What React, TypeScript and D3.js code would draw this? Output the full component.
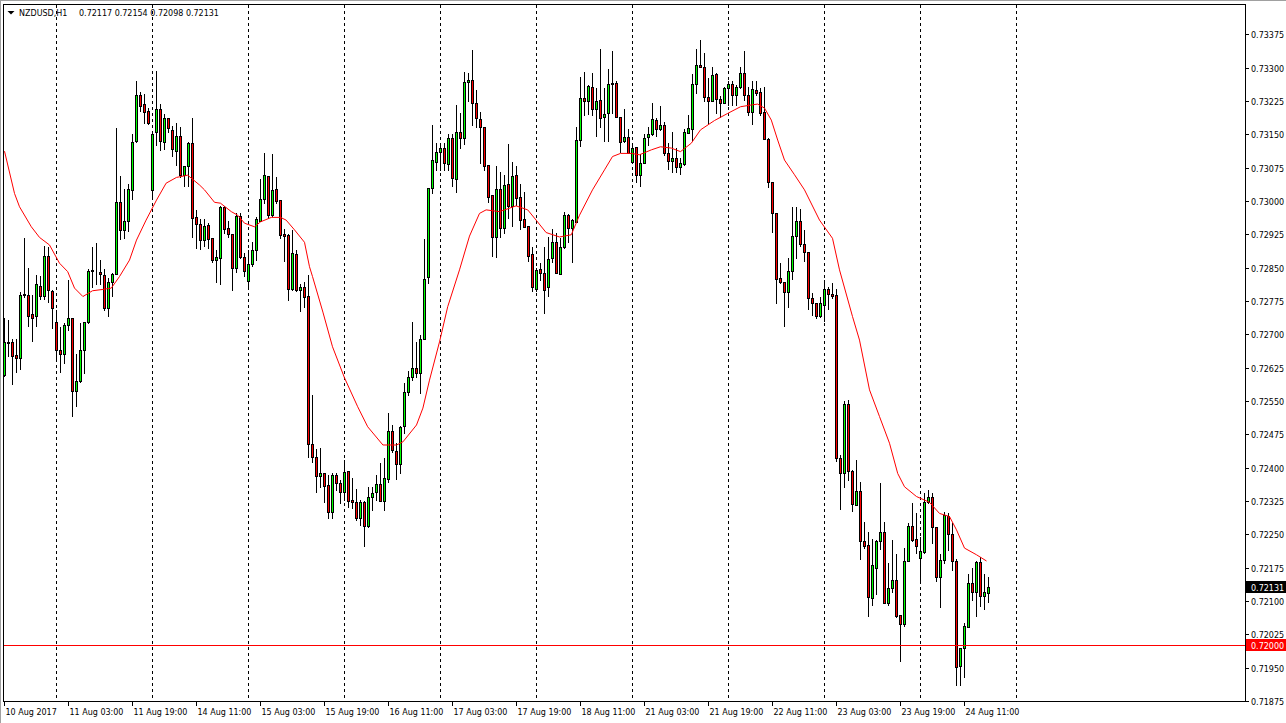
import React from 'react';
import * as d3 from 'd3';

// NZDUSD H1, 10 Aug 2017 11:00 .. 24 Aug 2017 17:00 (one entry per hourly bar)
const symbolName = 'NZDUSD,H1';

const opens = [
  0.72609, 0.72681, 0.72682, 0.72654, 0.72646, 0.72789, 0.72789, 0.72745, 0.72741, 0.72809, 0.72787, 0.72876, 0.72798,
  0.72727, 0.72664, 0.72656, 0.72722, 0.72736, 0.72573, 0.72595, 0.72664, 0.72727, 0.72843, 0.72845, 0.72841, 0.72834, 0.72760, 0.72817, 0.72836, 0.72997, 0.72935, 0.72956, 0.73025, 0.73134, 0.73239, 0.73218, 0.73203,
  0.73024, 0.73156, 0.73208, 0.73132, 0.73186, 0.73159, 0.73112, 0.73147, 0.73058, 0.73078, 0.73130, 0.72963, 0.72948, 0.72913, 0.72946, 0.72916, 0.72867, 0.72872, 0.72987, 0.72939, 0.72925, 0.72849, 0.72966, 0.72873,
  0.72819, 0.72858, 0.72889, 0.72956, 0.73004, 0.73056, 0.72968, 0.73026, 0.73002, 0.72926, 0.72923, 0.72803, 0.72880, 0.72799, 0.72806, 0.72786, 0.72454, 0.72423, 0.72382, 0.72388, 0.72361, 0.72300, 0.72384, 0.72365,
  0.72345, 0.72393, 0.72327, 0.72323, 0.72286, 0.72323, 0.72268, 0.72335, 0.72345, 0.72363, 0.72324, 0.72374, 0.72483, 0.72437, 0.72408, 0.72494, 0.72570, 0.72605, 0.72624, 0.72612, 0.72690, 0.72830, 0.73029, 0.73088,
  0.73110, 0.73119, 0.73083, 0.73141, 0.73049, 0.73155, 0.73141, 0.73267, 0.73272, 0.73220, 0.73184, 0.73166, 0.73081, 0.73013, 0.72918, 0.73026, 0.72939, 0.73038, 0.72989, 0.73058, 0.73008, 0.72960, 0.72944, 0.72880,
  0.72801, 0.72846, 0.72837, 0.72806, 0.72871, 0.72907, 0.72835, 0.72897, 0.72969, 0.72940, 0.72953, 0.73137, 0.73231, 0.73226, 0.73256, 0.73206, 0.73227, 0.73188, 0.73197, 0.73263, 0.73265, 0.73188, 0.73134, 0.73143,
  0.73087, 0.73121, 0.73058, 0.73085, 0.73144, 0.73151, 0.73182, 0.73162, 0.73171, 0.73109, 0.73091, 0.73096, 0.73076, 0.73083, 0.73152, 0.73162, 0.73263, 0.73306, 0.73301, 0.73233, 0.73225, 0.73286, 0.73229, 0.73221,
  0.73254, 0.73263, 0.73239, 0.73256, 0.73287, 0.73239, 0.73201, 0.73250, 0.73245, 0.73201, 0.73140, 0.73042, 0.72972, 0.72826, 0.72817, 0.72795, 0.72843, 0.72922, 0.72955, 0.72903, 0.72885, 0.72781, 0.72770, 0.72741,
  0.72767, 0.72801, 0.72790, 0.72789, 0.72421, 0.72387, 0.72543, 0.72393, 0.72316, 0.72348, 0.72235, 0.72226, 0.72106, 0.72175, 0.72235, 0.72256, 0.72095, 0.72129, 0.72147, 0.72068, 0.72048, 0.72191, 0.72269, 0.72239,
  0.72196, 0.72211, 0.72322, 0.72333, 0.72266, 0.72155, 0.72192, 0.72291, 0.72250, 0.72191, 0.71954, 0.71994, 0.72042, 0.72140, 0.72121, 0.72187, 0.72112, 0.72117,
];

const highs = [
  0.72737, 0.72732, 0.72690, 0.72690, 0.72795, 0.72917, 0.72849, 0.72789, 0.72834, 0.72832, 0.72898, 0.72897, 0.72799,
  0.72754, 0.72717, 0.72726, 0.72822, 0.72737, 0.72655, 0.72726, 0.72728, 0.72847, 0.72897, 0.72906, 0.72868, 0.72846, 0.72826, 0.72838, 0.73164, 0.73057, 0.73027, 0.73039, 0.73150, 0.73270, 0.73246, 0.73240, 0.73210,
  0.73151, 0.73293, 0.73218, 0.73196, 0.73187, 0.73168, 0.73176, 0.73166, 0.73079, 0.73132, 0.73186, 0.72980, 0.72960, 0.72960, 0.72950, 0.72917, 0.72890, 0.72989, 0.72989, 0.72955, 0.72925, 0.72974, 0.72974, 0.72883,
  0.72890, 0.72907, 0.72963, 0.73049, 0.73107, 0.73057, 0.73106, 0.73053, 0.73003, 0.72937, 0.72925, 0.72935, 0.72890, 0.72813, 0.72818, 0.72834, 0.72564, 0.72442, 0.72445, 0.72389, 0.72384, 0.72389, 0.72389, 0.72372,
  0.72417, 0.72393, 0.72376, 0.72351, 0.72327, 0.72324, 0.72357, 0.72357, 0.72384, 0.72410, 0.72421, 0.72524, 0.72496, 0.72455, 0.72493, 0.72591, 0.72618, 0.72727, 0.72683, 0.72699, 0.72914, 0.73030, 0.73171, 0.73130,
  0.73130, 0.73130, 0.73151, 0.73151, 0.73216, 0.73197, 0.73291, 0.73287, 0.73340, 0.73250, 0.73201, 0.73167, 0.73082, 0.73014, 0.73079, 0.73066, 0.73058, 0.73128, 0.73087, 0.73079, 0.73038, 0.73020, 0.72944, 0.72897,
  0.72849, 0.72860, 0.72897, 0.72920, 0.72937, 0.72927, 0.72916, 0.72975, 0.72971, 0.72960, 0.73166, 0.73280, 0.73291, 0.73260, 0.73287, 0.73254, 0.73342, 0.73254, 0.73297, 0.73338, 0.73271, 0.73189, 0.73206, 0.73162,
  0.73130, 0.73122, 0.73106, 0.73151, 0.73166, 0.73220, 0.73186, 0.73214, 0.73177, 0.73130, 0.73156, 0.73119, 0.73097, 0.73162, 0.73194, 0.73285, 0.73342, 0.73362, 0.73332, 0.73277, 0.73301, 0.73289, 0.73237, 0.73256,
  0.73271, 0.73269, 0.73261, 0.73301, 0.73338, 0.73257, 0.73269, 0.73269, 0.73254, 0.73256, 0.73141, 0.73043, 0.72973, 0.72860, 0.72818, 0.72872, 0.72986, 0.72986, 0.72981, 0.72935, 0.72886, 0.72792, 0.72771, 0.72785,
  0.72822, 0.72807, 0.72815, 0.72802, 0.72429, 0.72551, 0.72552, 0.72394, 0.72417, 0.72367, 0.72278, 0.72256, 0.72239, 0.72237, 0.72366, 0.72277, 0.72185, 0.72237, 0.72206, 0.72069, 0.72219, 0.72276, 0.72320, 0.72299,
  0.72245, 0.72342, 0.72350, 0.72344, 0.72267, 0.72205, 0.72301, 0.72299, 0.72275, 0.72194, 0.71994, 0.72050, 0.72161, 0.72174, 0.72191, 0.72200, 0.72161, 0.72154,
];

const lows = [
  0.72607, 0.72651, 0.72588, 0.72615, 0.72622, 0.72784, 0.72718, 0.72685, 0.72719, 0.72780, 0.72780, 0.72773, 0.72715,
  0.72642, 0.72616, 0.72636, 0.72710, 0.72516, 0.72539, 0.72593, 0.72613, 0.72726, 0.72807, 0.72813, 0.72814, 0.72754, 0.72742, 0.72787, 0.72836, 0.72915, 0.72917, 0.72933, 0.73005, 0.73133, 0.73203, 0.73176, 0.73173,
  0.73005, 0.73126, 0.73114, 0.73117, 0.73156, 0.73102, 0.73081, 0.73054, 0.73033, 0.73033, 0.72919, 0.72894, 0.72892, 0.72899, 0.72895, 0.72862, 0.72818, 0.72814, 0.72928, 0.72920, 0.72800, 0.72841, 0.72872, 0.72832,
  0.72805, 0.72853, 0.72867, 0.72955, 0.72995, 0.72962, 0.72966, 0.72995, 0.72917, 0.72866, 0.72777, 0.72800, 0.72798, 0.72753, 0.72762, 0.72424, 0.72413, 0.72346, 0.72357, 0.72323, 0.72286, 0.72286, 0.72350, 0.72320,
  0.72327, 0.72312, 0.72309, 0.72282, 0.72271, 0.72224, 0.72267, 0.72305, 0.72327, 0.72325, 0.72305, 0.72368, 0.72436, 0.72374, 0.72387, 0.72479, 0.72564, 0.72597, 0.72605, 0.72567, 0.72690, 0.72815, 0.73017, 0.73070,
  0.73070, 0.73070, 0.73070, 0.73034, 0.73020, 0.73119, 0.73128, 0.73225, 0.73171, 0.73167, 0.73085, 0.73070, 0.72998, 0.72877, 0.72875, 0.72918, 0.72927, 0.72961, 0.72944, 0.72991, 0.72937, 0.72941, 0.72866, 0.72798,
  0.72798, 0.72822, 0.72747, 0.72787, 0.72863, 0.72837, 0.72835, 0.72894, 0.72907, 0.72862, 0.72953, 0.73124, 0.73194, 0.73196, 0.73194, 0.73147, 0.73166, 0.73136, 0.73136, 0.73197, 0.73188, 0.73110, 0.73132, 0.73107,
  0.73087, 0.73042, 0.73034, 0.73085, 0.73126, 0.73149, 0.73146, 0.73160, 0.73104, 0.73072, 0.73066, 0.73065, 0.73061, 0.73081, 0.73152, 0.73137, 0.73242, 0.73301, 0.73226, 0.73173, 0.73224, 0.73199, 0.73190, 0.73220,
  0.73216, 0.73216, 0.73216, 0.73254, 0.73227, 0.73194, 0.73173, 0.73239, 0.73194, 0.73140, 0.73031, 0.72930, 0.72771, 0.72815, 0.72719, 0.72761, 0.72824, 0.72871, 0.72899, 0.72866, 0.72756, 0.72744, 0.72736, 0.72740,
  0.72730, 0.72756, 0.72782, 0.72415, 0.72306, 0.72357, 0.72372, 0.72303, 0.72316, 0.72194, 0.72219, 0.72067, 0.72091, 0.72116, 0.72217, 0.72095, 0.72091, 0.72120, 0.72065, 0.71966, 0.72044, 0.72191, 0.72235, 0.72209,
  0.72143, 0.72207, 0.72320, 0.72230, 0.72146, 0.72087, 0.72186, 0.72215, 0.72170, 0.71911, 0.71911, 0.71930, 0.72042, 0.72102, 0.72067, 0.72089, 0.72081, 0.72098,
];

const closes = [
  0.72682, 0.72683, 0.72652, 0.72647, 0.72789, 0.72790, 0.72742, 0.72737, 0.72813, 0.72787, 0.72876, 0.72799, 0.72759,
  0.72664, 0.72655, 0.72722, 0.72736, 0.72573, 0.72595, 0.72664, 0.72727, 0.72843, 0.72845, 0.72844, 0.72835, 0.72760, 0.72817, 0.72835, 0.72997, 0.72935, 0.72955, 0.73027, 0.73132, 0.73239, 0.73214, 0.73201, 0.73176,
  0.73150, 0.73208, 0.73134, 0.73186, 0.73164, 0.73118, 0.73147, 0.73058, 0.73078, 0.73130, 0.72962, 0.72948, 0.72913, 0.72943, 0.72915, 0.72867, 0.72873, 0.72986, 0.72936, 0.72926, 0.72849, 0.72966, 0.72873, 0.72842,
  0.72858, 0.72890, 0.72960, 0.73004, 0.73058, 0.72968, 0.73024, 0.73001, 0.72924, 0.72922, 0.72801, 0.72882, 0.72799, 0.72806, 0.72783, 0.72454, 0.72423, 0.72382, 0.72388, 0.72358, 0.72300, 0.72384, 0.72365, 0.72345,
  0.72390, 0.72326, 0.72322, 0.72286, 0.72323, 0.72269, 0.72335, 0.72342, 0.72363, 0.72325, 0.72376, 0.72483, 0.72440, 0.72408, 0.72492, 0.72570, 0.72605, 0.72624, 0.72612, 0.72689, 0.72824, 0.73029, 0.73092, 0.73110,
  0.73119, 0.73085, 0.73141, 0.73051, 0.73155, 0.73141, 0.73267, 0.73272, 0.73220, 0.73186, 0.73166, 0.73079, 0.73010, 0.72920, 0.73026, 0.72939, 0.73036, 0.72989, 0.73056, 0.73007, 0.72957, 0.72942, 0.72877, 0.72807,
  0.72845, 0.72837, 0.72799, 0.72869, 0.72907, 0.72837, 0.72896, 0.72969, 0.72940, 0.72957, 0.73137, 0.73231, 0.73226, 0.73259, 0.73206, 0.73225, 0.73186, 0.73196, 0.73263, 0.73265, 0.73188, 0.73132, 0.73143, 0.73107,
  0.73119, 0.73058, 0.73085, 0.73141, 0.73151, 0.73184, 0.73162, 0.73171, 0.73107, 0.73091, 0.73097, 0.73076, 0.73085, 0.73155, 0.73164, 0.73263, 0.73306, 0.73301, 0.73233, 0.73225, 0.73284, 0.73229, 0.73220, 0.73254,
  0.73263, 0.73239, 0.73256, 0.73289, 0.73239, 0.73201, 0.73252, 0.73242, 0.73199, 0.73140, 0.73043, 0.72972, 0.72824, 0.72817, 0.72795, 0.72843, 0.72921, 0.72955, 0.72903, 0.72885, 0.72781, 0.72770, 0.72742, 0.72770,
  0.72801, 0.72790, 0.72787, 0.72421, 0.72387, 0.72543, 0.72393, 0.72318, 0.72348, 0.72235, 0.72224, 0.72108, 0.72181, 0.72236, 0.72256, 0.72095, 0.72130, 0.72147, 0.72067, 0.72048, 0.72190, 0.72269, 0.72237, 0.72224,
  0.72213, 0.72323, 0.72333, 0.72266, 0.72155, 0.72192, 0.72293, 0.72250, 0.72191, 0.71952, 0.71994, 0.72044, 0.72140, 0.72121, 0.72187, 0.72111, 0.72120, 0.72131,
];

// moving average line (bar index, price)
const maBars = [
  0, 2.5, 3.75, 6.7, 8.75, 11.25, 13.75, 15.8, 17.5, 19.6, 22, 24.6, 26.7, 28.75, 31.25, 33, 35.4, 38, 40.4, 43,
  45.8, 48.75, 50, 52.5, 54, 56.7, 58.3, 60, 62.5, 64, 66.7, 69, 70.4, 72.5, 75, 76.25, 77, 79.6, 82, 85,
  88.3, 90.8, 94.6, 98, 99.6, 103, 104.6, 106.25, 108.75, 110.8, 113.75, 116.25, 118.75, 120.4, 123.75, 127.9, 130.8, 132.9, 135.4, 138.75,
  141.7, 143.75, 147, 150, 152, 154, 156.7, 158.75, 161.7, 164, 166.7, 169, 171.7, 174, 177.5, 180.8, 184, 186.7, 188.3, 190,
  191.7, 193.3, 195, 197.5, 200, 203.75, 207, 208.75, 212, 213.75, 216.25, 218.75, 221.25, 223.3, 225, 228, 231.25, 233.75, 236.25, 238,
  240, 243, 245.5,
];
const maValues = [
  0.73112, 0.73017, 0.72987, 0.72942, 0.72918, 0.72901, 0.72860, 0.72841, 0.72804, 0.72785, 0.72798, 0.72801, 0.72804, 0.72830, 0.72867, 0.72912, 0.72957, 0.73002, 0.73040, 0.73053,
  0.73058, 0.73036, 0.73025, 0.72997, 0.72995, 0.72976, 0.72968, 0.72950, 0.72942, 0.72953, 0.72963, 0.72963, 0.72957, 0.72935, 0.72907, 0.72852, 0.72830, 0.72750, 0.72672, 0.72602,
  0.72537, 0.72492, 0.72451, 0.72451, 0.72458, 0.72496, 0.72534, 0.72597, 0.72683, 0.72762, 0.72845, 0.72921, 0.72972, 0.72980, 0.72976, 0.72989, 0.72980, 0.72957, 0.72929, 0.72919,
  0.72924, 0.72968, 0.73025, 0.73070, 0.73100, 0.73107, 0.73107, 0.73104, 0.73115, 0.73122, 0.73119, 0.73111, 0.73130, 0.73160, 0.73181, 0.73197, 0.73212, 0.73216, 0.73218, 0.73209,
  0.73182, 0.73137, 0.73092, 0.73059, 0.73025, 0.72957, 0.72916, 0.72845, 0.72740, 0.72687, 0.72575, 0.72515, 0.72455, 0.72387, 0.72357, 0.72335, 0.72322, 0.72297, 0.72290, 0.72260,
  0.72219, 0.72204, 0.72190,
];

const daySeparatorBars = [13, 37, 61, 85, 109, 133, 157, 181, 205, 229, 253];

const timeLabelBars = [0, 16, 32, 48, 64, 80, 96, 112, 128, 144, 160, 176, 192, 208, 224, 240];
const timeLabels = [
  '10 Aug 2017', '11 Aug 03:00', '11 Aug 19:00', '14 Aug 11:00', '15 Aug 03:00', '15 Aug 19:00',
  '16 Aug 11:00', '17 Aug 03:00', '17 Aug 19:00', '18 Aug 11:00', '21 Aug 03:00', '21 Aug 19:00',
  '22 Aug 11:00', '23 Aug 03:00', '23 Aug 19:00', '24 Aug 11:00',
];

const priceTicks = [
  0.73375, 0.733, 0.73225, 0.7315, 0.73075, 0.73, 0.72925, 0.7285, 0.72775, 0.727, 0.72625,
  0.7255, 0.72475, 0.724, 0.72325, 0.7225, 0.72175, 0.721, 0.72025, 0.7195, 0.71875,
];

const levelPrice = 0.72;

const W = 1286;
const H = 723;
const frame = { left: 3, top: 4, right: 1245, bottom: 701 };

const BULL = '#00FF00';
const BEAR = '#FF0000';

export default function App() {
  const n = opens.length;
  const x = d3.scaleLinear().domain([0, n - 1]).range([4.5, 4.5 + 4 * (n - 1)]);
  const y = d3.scaleLinear().domain([0.71875, 0.73375]).range([701, 34.3]);
  const ry = (v: number) => Math.round(y(v));

  const maLine = d3.line<number>()
    .x((_, i) => x(maBars[i]))
    .y(d => y(d));

  const last = n - 1;
  const lastClose = closes[last];

  return (
    <div style={{ position: 'absolute', left: 0, top: 0, width: W, height: H, background: '#fff' }}>
      <svg width={W} height={H} style={{ display: 'block' }}
        fontFamily="'DejaVu Sans', Tahoma, sans-serif" fontSize={8}>
        <rect x={0} y={0} width={W} height={H} fill="#fff" />
        <rect x={0} y={0} width={W} height={1} fill="#a0a0a0" />
        <rect x={0} y={0} width={1} height={H} fill="#a0a0a0" />

        {/* day separators */}
        {daySeparatorBars.filter(b => x(b) < frame.right).map(b => (
          <line key={'sep' + b} x1={x(b)} x2={x(b)} y1={frame.top + 1} y2={frame.bottom}
            stroke="#000" strokeWidth={1} strokeDasharray="3,3" shapeRendering="crispEdges" />
        ))}

        {/* candles */}
        {d3.range(n).map(i => {
          const o = opens[i], c = closes[i];
          const cx = x(i);
          const top = ry(Math.max(o, c));
          const bot = ry(Math.min(o, c));
          return (
            <g key={'c' + i}>
              <line x1={cx} x2={cx} y1={ry(highs[i])} y2={ry(lows[i]) + 1}
                stroke="#000" strokeWidth={1} shapeRendering="crispEdges" />
              <rect x={cx - 1} y={top + 0.5} width={2} height={bot - top}
                fill={c >= o ? BULL : BEAR} stroke="#000" strokeWidth={1} shapeRendering="crispEdges" />
            </g>
          );
        })}

        {/* moving average */}
        <path d={maLine(maValues) || ''} fill="none" stroke="#FF0000" strokeWidth={1} />

        {/* horizontal level */}
        <rect x={frame.left + 1} y={ry(levelPrice)} width={frame.right - frame.left - 1} height={1} fill="#FF0000" />

        {/* frame */}
        <rect x={frame.left + 0.5} y={frame.top + 0.5} width={frame.right - frame.left} height={frame.bottom - frame.top}
          fill="none" stroke="#000" strokeWidth={1} shapeRendering="crispEdges" />

        {/* price axis */}
        {priceTicks.map(v => (
          <g key={'p' + v}>
            <rect x={frame.right + 1} y={ry(v)} width={3} height={1} fill="#000" />
            <text x={1251} y={ry(v) + 3.5} fill="#000">{v.toFixed(5)}</text>
          </g>
        ))}

        {/* current price box */}
        <rect x={1246} y={ry(lastClose) - 6} width={40} height={12} fill="#000" />
        <text x={1251} y={ry(lastClose) + 3.5} fill="#fff">{lastClose.toFixed(5)}</text>

        {/* level price box */}
        <rect x={1246} y={ry(levelPrice) - 6} width={40} height={12} fill="#FF0000" />
        <text x={1251} y={ry(levelPrice) + 3.5} fill="#fff">{levelPrice.toFixed(5)}</text>

        {/* time axis */}
        {timeLabelBars.map((b, i) => (
          <g key={'t' + b}>
            <rect x={x(b) - 0.5} y={frame.bottom + 1} width={1} height={4} fill="#000" />
            <text x={x(b) + 1} y={715} fill="#000">{timeLabels[i]}</text>
          </g>
        ))}

        {/* header */}
        <path d="M7.5,11 L14.5,11 L11,14.5 Z" fill="#000" />
        <text x={19} y={16} fill="#000">{symbolName}</text>
        <text x={79} y={16} fill="#000" style={{ whiteSpace: 'pre' }}>
          {[opens[last], highs[last], lows[last], closes[last]].map(v => v.toFixed(5)).join(' ')}
        </text>
      </svg>
    </div>
  );
}
